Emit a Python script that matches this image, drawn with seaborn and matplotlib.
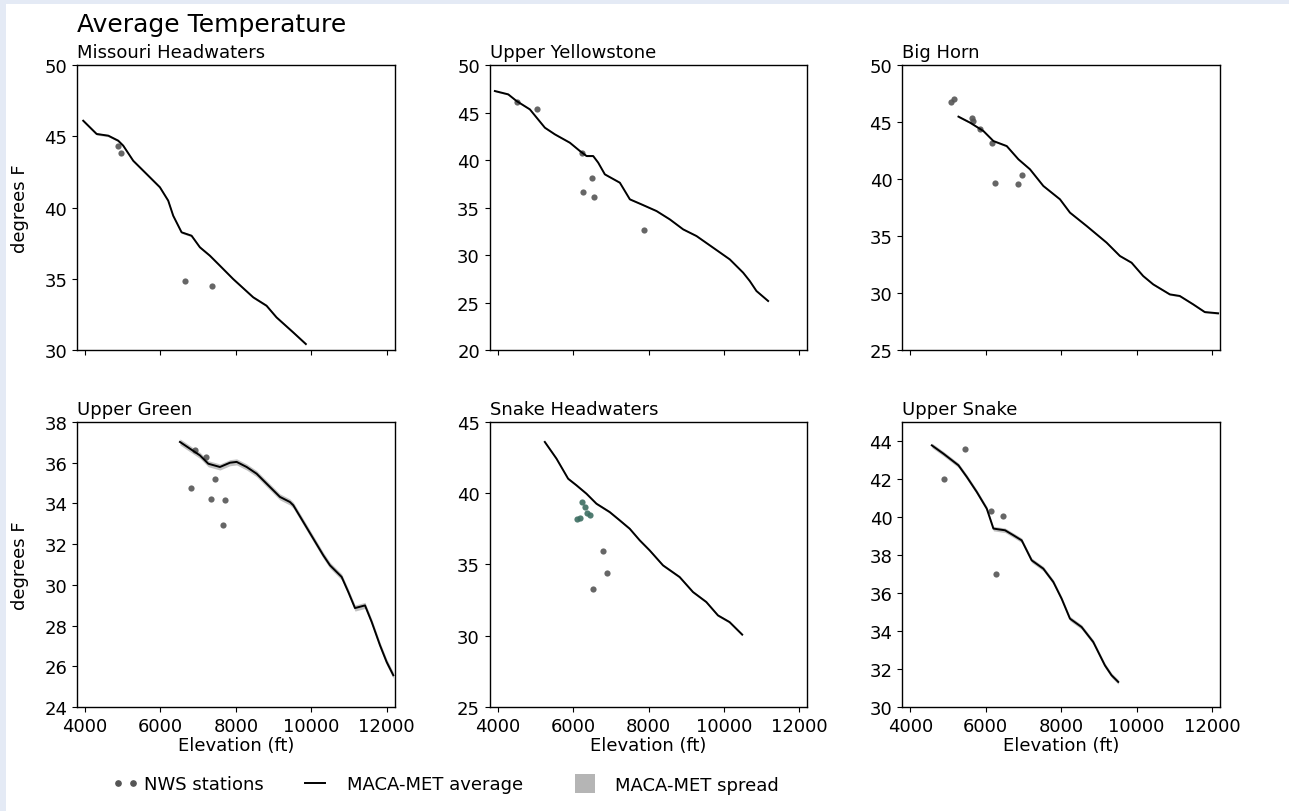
import numpy as np
import pandas as pd
import matplotlib
matplotlib.use("Agg")
import matplotlib.pyplot as plt
from matplotlib.patches import Patch, Rectangle
from matplotlib.lines import Line2D
import seaborn as sns

# ---------------- data ----------------
titles = ["Missouri Headwaters", "Upper Yellowstone", "Big Horn",
          "Upper Green", "Snake Headwaters", "Upper Snake"]

# MACA-MET average lines (elevation ft, degrees F)
mh_elev = [3955, 4310, 4620, 4882, 5015, 5280, 5634, 5987, 6207, 6340, 6561, 6826, 7046,
           7311, 7576, 7929, 8459, 8812, 9077, 9518, 9854]
mh_temp = [46.09, 45.16, 45.04, 44.69, 44.34, 43.28, 42.35, 41.42, 40.48, 39.42, 38.26, 38.02,
           37.21, 36.62, 35.92, 34.98, 33.70, 33.11, 32.29, 31.24, 30.42]
uy_elev = [3929, 4283, 4503, 4856, 5254, 5519, 5916, 6181, 6358, 6534, 6667, 6843, 7241, 7506,
           7815, 8212, 8565, 8918, 9271, 9713, 10154, 10508, 10684, 10861, 11170]
uy_temp = [47.26, 46.91, 46.21, 45.33, 43.40, 42.70, 41.82, 40.95, 40.42, 40.42, 39.72, 38.49,
           37.61, 35.86, 35.33, 34.63, 33.75, 32.70, 32.00, 30.77, 29.54, 28.14, 27.26, 26.21, 25.16]
bh_elev = [5279, 5588, 5940, 6205, 6558, 6867, 7175, 7528, 7969, 8234, 8675, 9204, 9557, 9866,
           10174, 10439, 10880, 11144, 11497, 11806, 12159]
bh_temp = [45.47, 44.94, 44.21, 43.33, 42.89, 41.73, 40.85, 39.39, 38.22, 37.05, 35.88, 34.42,
           33.25, 32.66, 31.49, 30.76, 29.88, 29.74, 29.01, 28.33, 28.22]
ug_elev = [6518, 6783, 7048, 7269, 7578, 7843, 8020, 8285, 8550, 8815, 9168, 9433, 9522, 9787,
           10052, 10317, 10494, 10803, 10980, 11157, 11422, 11599, 11820, 11996, 12172]
ug_temp = [37.02, 36.69, 36.36, 35.95, 35.79, 36.00, 36.04, 35.79, 35.46, 34.97, 34.32, 34.07,
           33.91, 33.09, 32.27, 31.45, 30.96, 30.39, 29.65, 28.86, 28.99, 28.18, 27.03, 26.21, 25.56]
sh_elev = [5252, 5561, 5870, 6090, 6355, 6619, 6972, 7237, 7502, 7766, 8031, 8384, 8825, 9178,
           9531, 9840, 10148, 10483]
sh_temp = [43.60, 42.43, 41.02, 40.56, 39.97, 39.27, 38.68, 38.10, 37.51, 36.70, 35.99, 34.94,
           34.12, 33.07, 32.37, 31.43, 30.96, 30.08]
us_elev = [4573, 4882, 5279, 5500, 5764, 6029, 6205, 6514, 6734, 6955, 7219, 7528, 7793, 8013,
           8234, 8542, 8851, 9160, 9336, 9513]
us_temp = [43.77, 43.33, 42.72, 42.11, 41.32, 40.44, 39.39, 39.30, 39.04, 38.77, 37.72, 37.28,
           36.58, 35.70, 34.65, 34.21, 33.42, 32.19, 31.67, 31.32]

# MACA-MET spread (half width, degrees F)
spread = [0.08, 0.08, 0.08, 0.15, 0.08, 0.12]

# NWS stations
mh_st_elev = [4880, 4954, 6657, 7364]
mh_st_temp = [44.3, 43.80, 34.87, 34.47]
uy_st_elev = [4503, 5051, 6243, 6508, 6269, 6561, 7868]
uy_st_temp = [46.1, 45.33, 40.70, 38.07, 36.63, 36.07, 32.63]
bh_st_elev = [5076, 5164, 5632, 5676, 5852, 6161, 6249, 6867, 6972]
bh_st_temp = [46.75, 47.05, 45.38, 45.09, 44.36, 43.19, 39.62, 39.53, 40.32]
ug_st_elev = [6810, 6916, 7207, 7446, 7331, 7711, 7649]
ug_st_temp = [34.77, 36.6, 36.3, 35.18, 34.23, 34.18, 32.92]
sh_st_elev = [6781, 6887, 6534]
sh_st_temp = [35.95, 34.40, 33.30]
sh_st2_elev = [6225, 6314, 6446, 6093, 6180, 6380]
sh_st2_temp = [39.39, 39.04, 38.50, 38.22, 38.26, 38.60]
us_st_elev = [4908, 5455, 6143, 6452, 6276]
us_st_temp = [42.02, 43.56, 40.30, 40.04, 36.98]

line_elev = [mh_elev, uy_elev, bh_elev, ug_elev, sh_elev, us_elev]
line_temp = [mh_temp, uy_temp, bh_temp, ug_temp, sh_temp, us_temp]
st_elev = [mh_st_elev, uy_st_elev, bh_st_elev, ug_st_elev, sh_st_elev, us_st_elev]
st_temp = [mh_st_temp, uy_st_temp, bh_st_temp, ug_st_temp, sh_st_temp, us_st_temp]

ylims = [(30, 50), (20, 50), (25, 50), (24, 38), (25, 45), (30, 45)]
yticks = [np.arange(30, 51, 5), np.arange(20, 51, 5), np.arange(25, 51, 5),
          np.arange(24, 39, 2), np.arange(25, 46, 5), np.arange(30, 45, 2)]
xticks = [4000, 6000, 8000, 10000, 12000]

legend_labels = ['NWS stations', 'MACA-MET average', 'MACA-MET spread']

# ---------------- figure ----------------
plt.rcParams['font.family'] = ['DejaVu Sans']
fs = 13
fig, axes = plt.subplots(2, 3, figsize=(12.89, 8.12), dpi=100, sharex=True)
fig.patch.set_facecolor('#e4eaf5')
fig.patches.append(Rectangle((6 / 1289, 0), 1, 1 - 5 / 812, transform=fig.transFigure,
                             facecolor='white', edgecolor='none', zorder=-10))
fig.subplots_adjust(left=77 / 1289, right=1220 / 1289, bottom=1 - 708 / 812, top=1 - 66 / 812,
                    wspace=0.2987, hspace=0.2526)

gray = '#555555'
for i, ax in enumerate(axes.flat):
    df = pd.DataFrame({'elev': line_elev[i], 'temp': line_temp[i]})
    ax.fill_between(df['elev'], df['temp'] - spread[i], df['temp'] + spread[i],
                    color='#999999', alpha=0.6, linewidth=0)
    sns.lineplot(data=df, x='elev', y='temp', ax=ax, color='black', linewidth=1.4)
    sdf = pd.DataFrame({'elev': st_elev[i], 'temp': st_temp[i]})
    sns.scatterplot(data=sdf, x='elev', y='temp', ax=ax, color=gray, s=20,
                    linewidth=0, alpha=0.9)
    if i == 4:
        sdf2 = pd.DataFrame({'elev': sh_st2_elev, 'temp': sh_st2_temp})
        sns.scatterplot(data=sdf2, x='elev', y='temp', ax=ax, color='#3d6e62', s=20,
                        linewidth=0, alpha=0.9)
    ax.set_title(titles[i], loc='left', fontsize=fs, pad=6)
    ax.set_ylim(*ylims[i])
    ax.set_yticks(yticks[i])
    ax.set_xlim(3790, 12210)
    ax.set_xticks(xticks)
    ax.tick_params(labelsize=fs)
    ax.set_xlabel('Elevation (ft)' if i >= 3 else '', fontsize=fs, labelpad=1)
    ax.set_ylabel('degrees F' if i % 3 == 0 else '', fontsize=fs, labelpad=11)
    for sp in ax.spines.values():
        sp.set_linewidth(1.0)

fig.text(77 / 1289, 1 - 32 / 812, 'Average Temperature', fontsize=18, va='baseline', ha='left')

# legend: three entries placed individually
ycen = 1 - 785 / 812
h1 = Line2D([], [], linestyle='none', marker='o', markersize=3.8, color=gray)
h2 = Line2D([], [], color='black', linewidth=1.4)
h3 = Patch(facecolor='#b5b5b5', edgecolor='none')
specs = [
    (h1, legend_labels[0], 112.6, 1.43, 0.3, 0.7, 2),
    (h2, legend_labels[1], 305, 1.1, 1.2, 0.7, 1),
    (h3, legend_labels[2], 575, 1.1, 1.1, 1.25, 1),
]
for h, lab, x0, hl, tp, hh, npts in specs:
    fig.legend([h], [lab], loc='center left', bbox_to_anchor=(x0 / 1289, ycen),
               frameon=False, fontsize=fs, numpoints=npts, handlelength=hl,
               handletextpad=tp, handleheight=hh, borderpad=0, borderaxespad=0)

fig.savefig('out.png', dpi=100, facecolor=fig.get_facecolor())
